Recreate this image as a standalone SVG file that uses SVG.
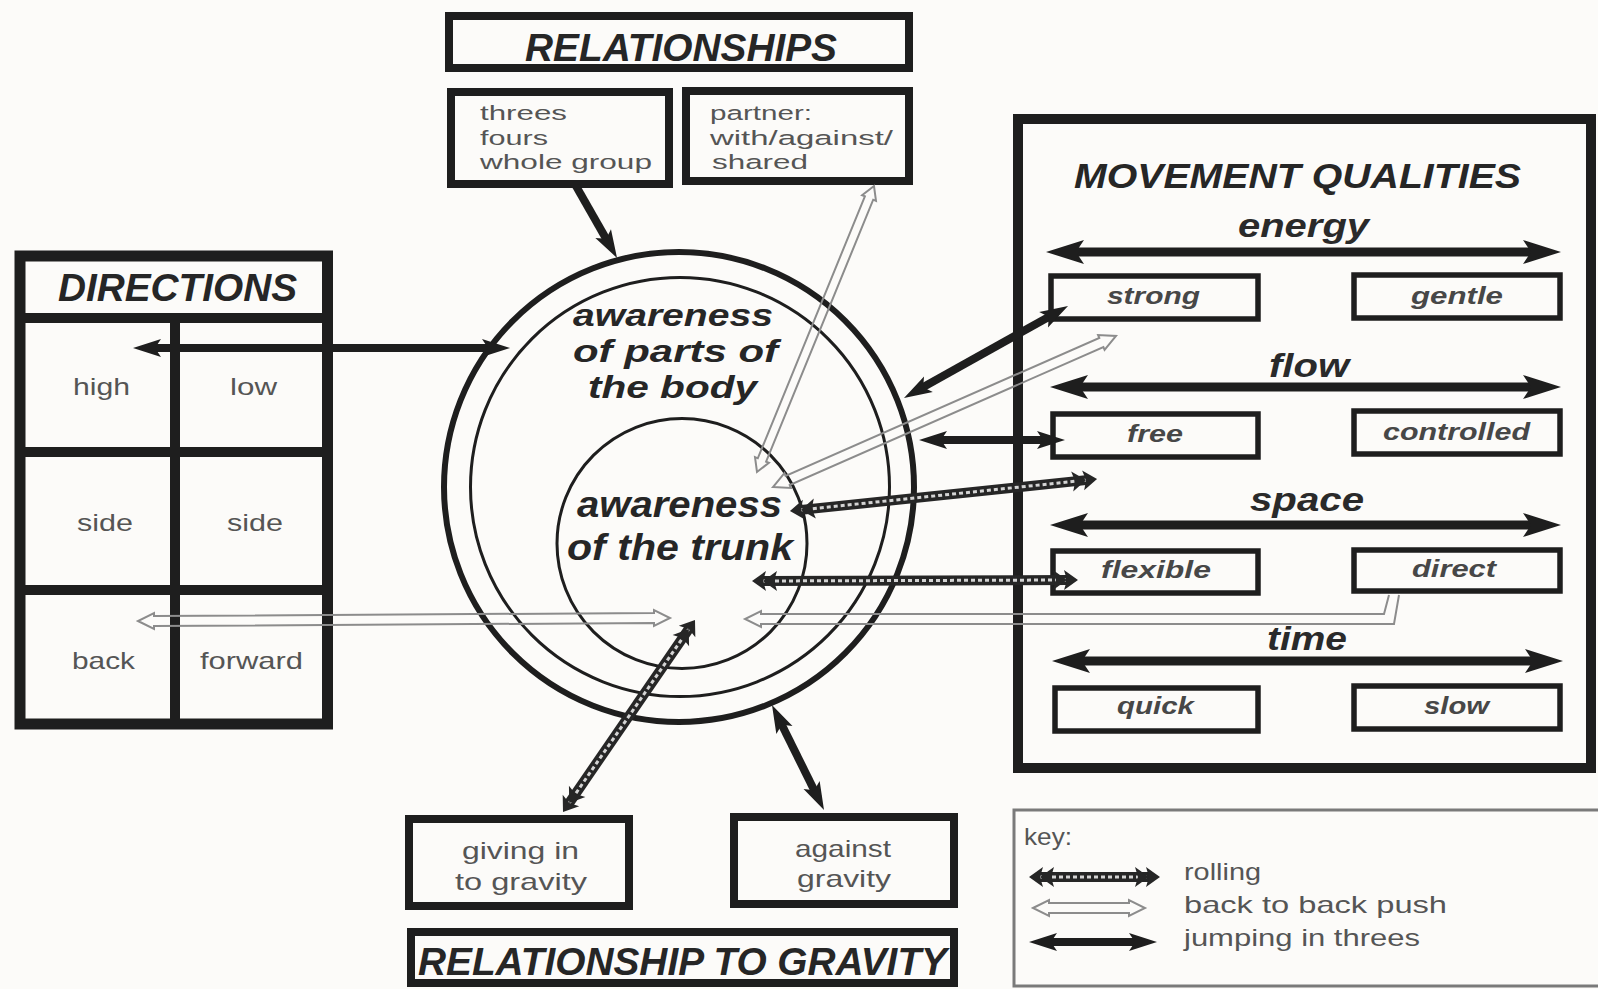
<svg xmlns="http://www.w3.org/2000/svg" width="1598" height="989" viewBox="0 0 1598 989">
<style>
.bx{fill:none;stroke:#1e1e1e}
.ttl{font-family:"Liberation Sans",Arial,sans-serif;font-weight:bold;font-style:italic;fill:#262626}
.sm{font-family:"Liberation Sans",Arial,sans-serif;fill:#555;font-size:24px}
.st{font-family:"Liberation Sans",Arial,sans-serif;fill:#555;font-size:20.5px}
.val{font-family:"Liberation Sans",Arial,sans-serif;font-weight:bold;font-style:italic;fill:#474747;font-size:24px}
.ax{font-family:"Liberation Sans",Arial,sans-serif;font-weight:bold;font-style:italic;fill:#2a2a2a;font-size:33px}
.circ{font-family:"Liberation Sans",Arial,sans-serif;font-weight:bold;font-style:italic;fill:#262626;font-size:36px}
.circs{font-family:"Liberation Sans",Arial,sans-serif;font-weight:bold;font-style:italic;fill:#262626;font-size:31.5px}
.jump{fill:none;stroke:#1e1e1e;stroke-width:8}
.axis{fill:none;stroke:#1e1e1e;stroke-width:9}
.roll{fill:none;stroke:#262626;stroke-width:10}
.rolld{fill:none;stroke:#d4d4d4;stroke-width:3;stroke-dasharray:4 3}
.hollow{fill:none;stroke:#8c8c8c;stroke-width:2}
</style>
<defs>
<marker id="hS" markerUnits="userSpaceOnUse" viewBox="-40 -20 44 40" markerWidth="44" markerHeight="40" refX="-14" refY="0" orient="auto-start-reverse" overflow="visible">
<path d="M0,0 L-28,-9 L-22,0 L-28,9 Z" fill="#1e1e1e"/>
</marker>
<marker id="hL" markerUnits="userSpaceOnUse" viewBox="-40 -20 44 40" markerWidth="44" markerHeight="40" refX="-18" refY="0" orient="auto-start-reverse" overflow="visible">
<path d="M0,0 L-38,-12 L-30,0 L-38,12 Z" fill="#1e1e1e"/>
</marker>
<marker id="hR" markerUnits="userSpaceOnUse" viewBox="-40 -20 44 40" markerWidth="44" markerHeight="40" refX="-9" refY="0" orient="auto-start-reverse" overflow="visible">
<path d="M0,0 L-14,-10 L-11,0 L-14,10 Z M-11,0 L-25,-10 L-22,0 L-25,10 Z" fill="#262626"/>
</marker>
</defs>
<rect x="0" y="0" width="1598" height="989" fill="#fcfbf9"/>

<g id="node-relationships">
<rect class="bx" x="449" y="16" width="460" height="52" stroke-width="8"/>
<text class="ttl" x="525" y="61" font-size="39" textLength="312" lengthAdjust="spacingAndGlyphs">RELATIONSHIPS</text>
</g>
<g id="node-groups">
<rect class="bx" x="451" y="92" width="218" height="92" stroke-width="8"/>
<text class="st" x="480" y="120" textLength="87" lengthAdjust="spacingAndGlyphs">threes</text>
<text class="st" x="480" y="145" textLength="68" lengthAdjust="spacingAndGlyphs">fours</text>
<text class="st" x="480" y="169" textLength="172" lengthAdjust="spacingAndGlyphs">whole group</text>
</g>
<g id="node-partner">
<rect class="bx" x="686" y="91" width="223" height="90" stroke-width="8"/>
<text class="st" x="710" y="120" textLength="102" lengthAdjust="spacingAndGlyphs">partner:</text>
<text class="st" x="710" y="145" textLength="183" lengthAdjust="spacingAndGlyphs">with/against/</text>
<text class="st" x="712" y="169" textLength="96" lengthAdjust="spacingAndGlyphs">shared</text>
</g>

<g id="node-directions">
<rect class="bx" x="20" y="256" width="307.5" height="468" stroke-width="11"/>
<line class="bx" x1="20" y1="318" x2="327" y2="318" stroke-width="10"/>
<line class="bx" x1="20" y1="452" x2="327" y2="452" stroke-width="10"/>
<line class="bx" x1="20" y1="590" x2="327" y2="590" stroke-width="10"/>
<line class="bx" x1="175" y1="318" x2="175" y2="724" stroke-width="10"/>
<text class="ttl" x="58" y="301" font-size="39" textLength="239" lengthAdjust="spacingAndGlyphs">DIRECTIONS</text>
<text class="sm" x="73" y="395" textLength="57" lengthAdjust="spacingAndGlyphs">high</text>
<text class="sm" x="230" y="395" textLength="47" lengthAdjust="spacingAndGlyphs">low</text>
<text class="sm" x="77" y="531" textLength="56" lengthAdjust="spacingAndGlyphs">side</text>
<text class="sm" x="227" y="531" textLength="56" lengthAdjust="spacingAndGlyphs">side</text>
<text class="sm" x="72" y="669" textLength="63" lengthAdjust="spacingAndGlyphs">back</text>
<text class="sm" x="200" y="669" textLength="103" lengthAdjust="spacingAndGlyphs">forward</text>
</g>

<g id="node-body">
<circle class="bx" cx="679" cy="487" r="235" stroke-width="6"/>
<circle class="bx" cx="680" cy="487" r="209.5" stroke-width="3"/>
<text class="circs" x="573" y="326" textLength="200" lengthAdjust="spacingAndGlyphs">awareness</text>
<text class="circs" x="573" y="362" textLength="205" lengthAdjust="spacingAndGlyphs">of parts of</text>
<text class="circs" x="588" y="398" textLength="169" lengthAdjust="spacingAndGlyphs">the body</text>
</g>
<g id="node-trunk">
<circle class="bx" cx="682" cy="543.5" r="125" stroke-width="3"/>
<text class="circ" x="577" y="517" textLength="205" lengthAdjust="spacingAndGlyphs">awareness</text>
<text class="circ" x="567" y="560" textLength="226" lengthAdjust="spacingAndGlyphs">of the trunk</text>
</g>

<g id="node-movement-qualities">
<rect class="bx" x="1018" y="119" width="573" height="649" stroke-width="10"/>
<text class="ttl" x="1074" y="188" font-size="35" textLength="447" lengthAdjust="spacingAndGlyphs">MOVEMENT QUALITIES</text>
<text class="ax" x="1238" y="237" textLength="131" lengthAdjust="spacingAndGlyphs">energy</text>
<text class="ax" x="1269" y="377" textLength="80" lengthAdjust="spacingAndGlyphs">flow</text>
<text class="ax" x="1250" y="511" textLength="114" lengthAdjust="spacingAndGlyphs">space</text>
<text class="ax" x="1267" y="650" textLength="80" lengthAdjust="spacingAndGlyphs">time</text>
<path class="axis" d="M1064,252 L1543,252" marker-start="url(#hL)" marker-end="url(#hL)"/>
<path class="axis" d="M1068,387 L1543,387" marker-start="url(#hL)" marker-end="url(#hL)"/>
<path class="axis" d="M1068,525 L1543,525" marker-start="url(#hL)" marker-end="url(#hL)"/>
<path class="axis" d="M1070,661 L1545,661" marker-start="url(#hL)" marker-end="url(#hL)"/>
<g id="node-strong"><rect class="bx" x="1051" y="276" width="207" height="43" stroke-width="5.5"/><text class="val" x="1107" y="304" textLength="93" lengthAdjust="spacingAndGlyphs">strong</text></g>
<g id="node-gentle"><rect class="bx" x="1354" y="275" width="206" height="43" stroke-width="5.5"/><text class="val" x="1411" y="304" textLength="92" lengthAdjust="spacingAndGlyphs">gentle</text></g>
<g id="node-free"><rect class="bx" x="1053" y="414" width="205" height="43" stroke-width="5.5"/><text class="val" x="1127" y="442" textLength="56" lengthAdjust="spacingAndGlyphs">free</text></g>
<g id="node-controlled"><rect class="bx" x="1354" y="411" width="206" height="43" stroke-width="5.5"/><text class="val" x="1383" y="440" textLength="147" lengthAdjust="spacingAndGlyphs">controlled</text></g>
<g id="node-flexible"><rect class="bx" x="1053" y="551" width="205" height="42" stroke-width="5.5"/><text class="val" x="1101" y="578" textLength="110" lengthAdjust="spacingAndGlyphs">flexible</text></g>
<g id="node-direct"><rect class="bx" x="1354" y="550" width="206" height="41" stroke-width="5.5"/><text class="val" x="1412" y="577" textLength="84" lengthAdjust="spacingAndGlyphs">direct</text></g>
<g id="node-quick"><rect class="bx" x="1055" y="688" width="203" height="43" stroke-width="5.5"/><text class="val" x="1117" y="714" textLength="77" lengthAdjust="spacingAndGlyphs">quick</text></g>
<g id="node-slow"><rect class="bx" x="1354" y="686" width="206" height="43" stroke-width="5.5"/><text class="val" x="1424" y="714" textLength="65" lengthAdjust="spacingAndGlyphs">slow</text></g>
</g>

<g id="node-giving">
<rect class="bx" x="409" y="819" width="220" height="87" stroke-width="8"/>
<text class="sm" x="462" y="859" textLength="117" lengthAdjust="spacingAndGlyphs">giving in</text>
<text class="sm" x="455" y="890" textLength="132" lengthAdjust="spacingAndGlyphs">to gravity</text>
</g>
<g id="node-against">
<rect class="bx" x="734" y="817" width="220" height="87" stroke-width="8"/>
<text class="sm" x="795" y="857" textLength="96" lengthAdjust="spacingAndGlyphs">against</text>
<text class="sm" x="797" y="887" textLength="94" lengthAdjust="spacingAndGlyphs">gravity</text>
</g>
<g id="node-gravity">
<rect class="bx" x="411" y="932" width="543" height="51" stroke-width="8"/>
<text class="ttl" x="418" y="975" font-size="38" textLength="529" lengthAdjust="spacingAndGlyphs">RELATIONSHIP TO GRAVITY</text>
</g>

<g id="key">
<rect x="1014" y="810" width="600" height="176" fill="none" stroke="#7a7a7a" stroke-width="3"/>
<text class="sm" x="1024" y="845" textLength="48" lengthAdjust="spacingAndGlyphs">key:</text>
<path class="roll" d="M1038,877 L1151,877"/>
<path class="rolld" d="M1038,877 L1151,877" marker-start="url(#hR)" marker-end="url(#hR)"/>
<polygon class="hollow" points="1033,908 1049,900 1049,903 1129,903 1129,900 1145,908 1129,916 1129,913 1049,913 1049,916"/>
<path class="jump" d="M1043,942 L1143,942" stroke-width="9" marker-start="url(#hS)" marker-end="url(#hS)"/>
<text class="sm" x="1184" y="880" textLength="77" lengthAdjust="spacingAndGlyphs">rolling</text>
<text class="sm" x="1184" y="913" textLength="263" lengthAdjust="spacingAndGlyphs">back to back push</text>
<text class="sm" x="1184" y="946" textLength="236" lengthAdjust="spacingAndGlyphs">jumping in threes</text>
</g>

<g id="connectors">
<polygon class="hollow" points="874,186 862.1,195.2 864.9,196.3 757.8,458.3 755,457.1 757,472 768.9,462.8 766.1,461.7 873.2,199.7 876,200.9"/>
<polygon class="hollow" points="773,487 790.9,487.9 789.7,485.1 1103.4,347 1104.6,349.8 1116,336 1098.1,335.1 1099.3,337.9 785.6,476 784.4,473.2"/>
<polygon class="hollow" points="138,621 154,629 154,626 654,623 654,626 670,618 654,610 654,613 154,616 154,613"/>
<path class="hollow" d="M1389,595 L1384,614 L761,614 L761,611 L745,619 L761,627 L761,624 L1394,624 L1399,595"/>

<path class="roll" d="M798.9,510.1 L1088.1,479.9"/>
<path class="rolld" d="M798.9,510.1 L1088.1,479.9" marker-start="url(#hR)" marker-end="url(#hR)"/>
<path class="roll" d="M761,581 L1069,580"/>
<path class="rolld" d="M761,581 L1069,580" marker-start="url(#hR)" marker-end="url(#hR)"/>
<path class="roll" d="M568.1,804.6 L689.9,627.4"/>
<path class="rolld" d="M568.1,804.6 L689.9,627.4" marker-start="url(#hR)" marker-end="url(#hR)"/>

<path class="jump" d="M147,348 L496,348" marker-start="url(#hS)" marker-end="url(#hS)"/>
<path class="jump" d="M916.2,391.1 L1055.8,312.9" stroke-width="9" marker-start="url(#hS)" marker-end="url(#hS)"/>
<path class="jump" d="M933,440 L1051,440" marker-start="url(#hS)" marker-end="url(#hS)"/>
<path class="jump" d="M778.2,717.5 L817.8,797.5" marker-start="url(#hS)" marker-end="url(#hS)"/>
<path class="jump" d="M576,186 L610.1,245.8" marker-end="url(#hS)"/>
</g>
</svg>
